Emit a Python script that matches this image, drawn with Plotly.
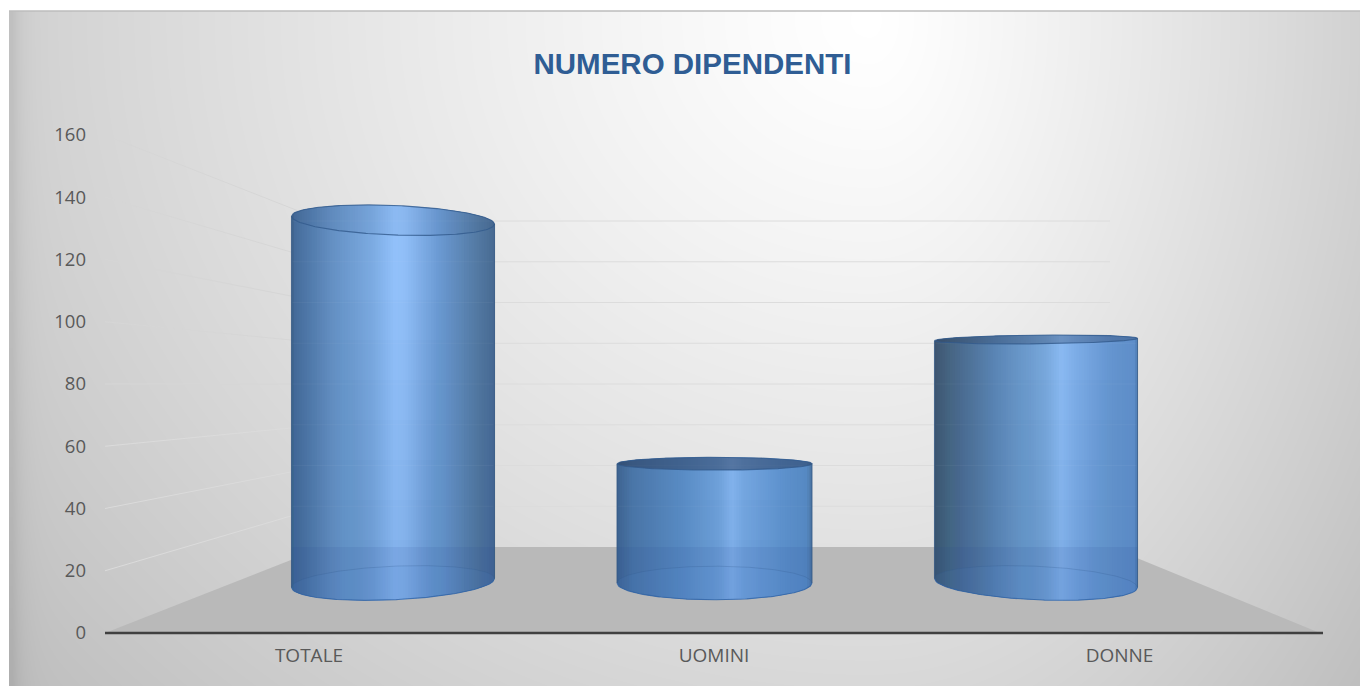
import numpy as np
import plotly.graph_objects as go

# ---- data ----
categories = ["TOTALE", "UOMINI", "DONNE"]
values = [146, 48, 98]
y_ticks = [0, 20, 40, 60, 80, 100, 120, 140, 160]
title_text = "NUMERO DIPENDENTI"

# ---- page / projection geometry (pixels of the 1360x686 page) ----
W, H = 1360, 686
FRONT0 = 633.0          # pixel row of value 0 on the front plane
PXU = 3.1125            # pixels per value unit on the front plane
BACK0 = 547.0           # value 0 on the back wall
BACK_K = 40.75 / 62.25  # back wall scale against the front plane
CYL0 = 583.0            # cylinder base centre row
CYL_K = 2.485 / PXU     # cylinder depth scale against the front plane
EYE = 390.0             # horizon row
label_x = [309, 714, 1119.5]
cyl_cx = [393, 714.5, 1036]
cyl_a = [101.5, 97.5, 101.5]
cap_alpha = [0.05, 0.5, 0.32]

stops = [
    [(-1, "#3f628b"), (-.96, "#466d9c"), (-.6, "#6490c3"), (-.2, "#7cabe2"), (.02, "#92c1fb"),
     (.12, "#90bef7"), (.45, "#6b9ad3"), (.8, "#557ca6"), (1, "#486a92")],
    [(-1, "#3e6390"), (-.85, "#4a75a7"), (-.3, "#5a8dc6"), (.05, "#6fa1da"), (.18, "#82b2ec"),
     (.3, "#74a6e0"), (.7, "#5d91cd"), (.95, "#5689c2"), (1, "#4a72a0")],
    [(-1, "#3f5570"), (-.85, "#476583"), (-.4, "#5b86b6"), (.1, "#7aaade"), (.25, "#8cbbf4"),
     (.4, "#7eaee8"), (.75, "#6595d1"), (.97, "#5f8fca"), (1, "#4f7eb5")],
]


def D(py):
    """page row -> value-axis coordinate"""
    return (FRONT0 - np.asarray(py, dtype=float)) / PXU


def hex_rgb(c):
    return np.array([int(c[i:i + 2], 16) for i in (1, 3, 5)], dtype=float)


def stop_colour(st, u):
    xs = [s[0] for s in st]
    cs = np.array([hex_rgb(s[1]) for s in st])
    rgb = [np.interp(u, xs, cs[:, k]) for k in range(3)]
    return "rgb(%d,%d,%d)" % tuple(int(round(v)) for v in rgb)


def ellipse(cx, a, py, x):
    """upper and lower arc rows of the projected circle at row py"""
    b = 0.087 * abs(py - EYE)
    tilt = 7.2e-5 * (py - EYE) * (cx - 714)
    u = np.clip((np.asarray(x, dtype=float) - cx) / a, -1, 1)
    mid = py + tilt * u
    s = b * np.sqrt(1 - u ** 2)
    return mid - s, mid + s


fig = go.Figure()


def poly(xs, ys, fill, line=None, width=0):
    fig.add_trace(go.Scatter(x=list(xs), y=list(ys), mode="lines", fill="toself", fillcolor=fill,
                             line=dict(color=line or "rgba(0,0,0,0)", width=width),
                             hoverinfo="skip", showlegend=False))


def path(xs, ys, colour, width):
    fig.add_trace(go.Scatter(x=list(xs), y=list(ys), mode="lines",
                             line=dict(color=colour, width=width),
                             hoverinfo="skip", showlegend=False))


# ---- background gradient ----
gx = np.arange(12, W + 12, 6.0)
gy = np.arange(13, H + 12, 4.0)
XX, YY = np.meshgrid(gx, gy)
sx = np.where(XX < 870, 900.0, 520.0)
dd = np.sqrt(((XX - 870) / sx) ** 2 + ((YY - 20) / 800.0) ** 2)
gray = 255 - 49 * dd ** 1.2
gray -= 22 * np.exp(-(XX - 9) / 10.0)
fig.add_trace(go.Heatmap(x=gx, y=D(gy), z=gray, zmin=0, zmax=255, zsmooth="best", showscale=False,
                         colorscale=[[0, "#000000"], [1, "#ffffff"]], hoverinfo="skip"))
path([9, W], [D(11)] * 2, "#bdbdbd", 1.5)

# ---- walls and floor ----
BL, BR = 324.0, 1110.0
for v in y_ticks[1:]:
    back = D(BACK0) + BACK_K * v
    path([BL, BR], [back, back], "#dcdcdc", 1)
    path([105, BL], [v, back], "#d6d6d6" if v >= 80 else "#dbdbdb", 1)
poly([105, BL, BR, 1320], [0, D(BACK0), D(BACK0), 0], "#b9b9b9")
path([105, 1323], [0, 0], "#404040", 2.5)

# ---- cylinders ----
for i, val in enumerate(values):
    cx, a = cyl_cx[i], cyl_a[i]
    py_top = CYL0 - val * CYL_K * PXU
    xs = np.linspace(cx - a, cx + a, 81)
    # opaque strips, each overlapping its neighbour
    for j in range(len(xs) - 1):
        xq = np.linspace(xs[j], xs[min(j + 2, len(xs) - 1)], 4)
        up, _ = ellipse(cx, a, py_top, xq)
        _, lo = ellipse(cx, a, CYL0, xq)
        u = (xs[j] + xs[j + 1]) / 2
        poly(np.r_[xq, xq[::-1]], D(np.r_[up, lo[::-1]]),
             stop_colour(stops[i], (u - cx) / a))
    fine = np.linspace(cx - a, cx + a, 121)
    up, upl = ellipse(cx, a, py_top, fine)
    bup, blo = ellipse(cx, a, CYL0, fine)
    # slow darkening toward the floor
    for lvl in range(300, 560, 40):
        if lvl > py_top:
            poly(np.r_[fine, fine[::-1]], D(np.r_[np.full_like(fine, lvl), blo[::-1]]),
                 "rgba(40,80,170,0.018)")
    # floor and wall lines seen through the glass
    poly(np.r_[fine, fine[::-1]], D(np.r_[np.full_like(fine, BACK0), blo[::-1]]), "rgba(35,70,150,0.10)")
    poly(np.r_[fine, fine[::-1]], D(np.r_[bup, blo[::-1]]), "rgba(90,150,235,0.08)")
    for v in y_ticks[1:]:
        back_px = BACK0 - BACK_K * PXU * v
        if back_px > py_top:
            path([cx - a + 1, cx + a - 1], [D(back_px)] * 2, "rgba(255,255,255,0.04)", 1)
    # top cap
    poly(np.r_[fine, fine[::-1]], D(np.r_[up, upl[::-1]]), "rgba(40,58,90,%.2f)" % cap_alpha[i])
    edge = "rgba(50,90,140,0.8)"
    path(np.r_[fine, fine[::-1]], D(np.r_[up, upl[::-1]]), edge, 1.1)
    path(fine, D(blo), "rgba(50,100,165,0.8)", 1.1)
    path(fine, D(bup), "rgba(50,90,145,0.25)", 1)
    for sgn, idx in ((-1, 0), (1, -1)):
        path([cx + sgn * a] * 2, D([up[idx], blo[idx]]), "rgba(50,85,130,0.75)", 1.1)

# ---- layout ----
fig.update_layout(
    width=W, height=H, margin=dict(l=0, r=0, t=0, b=0, pad=0),
    paper_bgcolor="#ffffff", plot_bgcolor="#ffffff", showlegend=False,
    title=dict(text=title_text, x=692.5 / W, y=1 - 64 / H, xanchor="center", yanchor="middle",
               xref="paper", yref="container",
               font=dict(family="Liberation Sans", size=29.5, weight="bold", color="#2f5d94")),
    xaxis=dict(range=[0, W], domain=[0, 1], anchor="free", position=(H - 642) / H,
               tickmode="array", tickvals=label_x, ticktext=categories, ticks="",
               showgrid=False, zeroline=False, showline=False,
               tickfont=dict(family="Open Sans", size=19, color="#595959")),
    yaxis=dict(range=[float(D(H)), float(D(0))], domain=[0, 1], anchor="free", position=86 / W,
               tickmode="array", tickvals=y_ticks, ticks="",
               showgrid=False, zeroline=False, showline=False,
               tickfont=dict(family="Open Sans", size=18.5, color="#595959")),
)

fig.write_html("out.html", config={"displayModeBar": False},
               post_script="document.body.style.margin='0';")
